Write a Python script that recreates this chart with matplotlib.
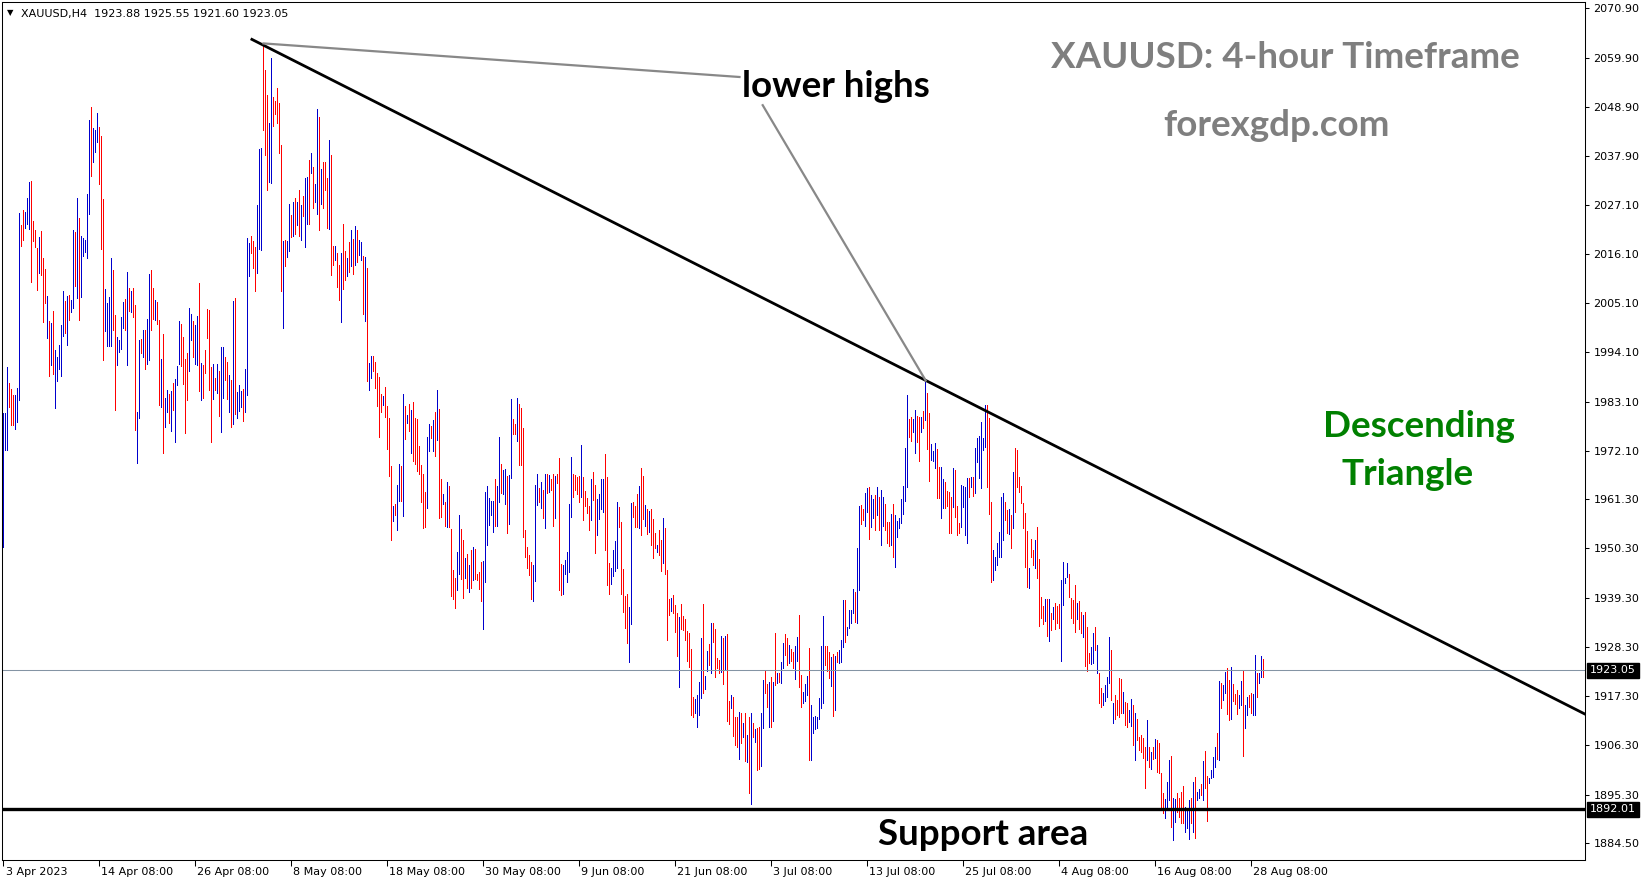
import matplotlib
matplotlib.use("Agg")
import matplotlib.pyplot as plt

W, H = 1649, 884

# XAUUSD 4h bars, 3 Apr - 28 Aug 2023 (one value per bar)
highs = [
    1980.5, 1980.5, 1990.8, 1987.2, 1985.9, 1984.6, 1984.6, 1986.1, 2025.2, 2022.5,
    2025.9, 2025.4, 2028.6, 2032.1, 2032.4, 2023.4, 2021.4, 2017.4, 2019.9, 2021.2,
    2015.2, 2012.7, 2006.7, 2001.1, 2000.6, 2003.3, 1994.6, 1993.0, 1995.7, 2000.2,
    2007.8, 2005.6, 2006.7, 2006.9, 2005.8, 2021.4, 2021.0, 2028.6, 2024.1, 2020.1,
    2019.6, 2019.2, 2029.5, 2046.0, 2048.9, 2044.2, 2043.8, 2047.6, 2044.4, 2042.4,
    2028.3, 2008.2, 2005.1, 2006.5, 2015.2, 2012.5, 2002.4, 1997.5, 1996.8, 2002.0,
    2005.3, 2006.0, 2012.0, 2008.5, 2007.8, 2008.5, 2004.7, 1980.8, 1996.8, 1997.1,
    1999.1, 1999.1, 2001.5, 2011.6, 2012.5, 2008.5, 2005.8, 2005.3, 2001.3, 1992.6,
    1998.2, 1983.9, 1985.7, 1984.8, 1985.5, 1987.2, 1988.1, 1991.0, 2001.1, 2000.4,
    1997.5, 1992.6, 1993.9, 2004.0, 2002.7, 2001.1, 2000.2, 2002.2, 2009.6, 1991.7,
    1991.3, 1994.6, 2003.8, 2003.5, 1990.8, 1991.5, 1988.4, 1991.5, 1989.9, 1995.3,
    1995.3, 1993.0, 1991.9, 1989.0, 1987.9, 2005.6, 2006.2, 1985.2, 1986.8, 1985.5,
    1985.9, 1990.4, 2019.6, 2018.5, 2020.1, 2019.0, 2017.6, 2027.0, 2039.5, 2039.7,
    2062.7, 2057.2, 2051.6, 2045.3, 2059.8, 2051.1, 2050.2, 2053.1, 2049.8, 2040.4,
    2019.0, 2019.2, 2019.0, 2027.2, 2024.8, 2027.7, 2028.6, 2027.7, 2030.4, 2027.0,
    2029.0, 2033.0, 2033.3, 2037.1, 2038.6, 2035.5, 2031.7, 2048.5, 2046.7, 2035.0,
    2036.6, 2036.6, 2033.0, 2041.5,
    2038.2, 2017.8, 2017.8, 2016.3, 2013.6, 2016.3, 2022.8, 2016.7, 2015.2, 2018.7,
    2021.4, 2019.4, 2022.3, 2021.4, 2019.2, 2018.7, 2015.6, 2015.4, 2012.9, 1991.7,
    1993.3, 1993.3, 1991.9, 1989.5, 1988.6, 1984.8, 1984.3, 1986.3, 1982.1, 1979.4,
    1968.7, 1959.8, 1960.2, 1964.5, 1969.1, 1968.7, 1984.8, 1982.1, 1980.1, 1982.5,
    1981.2, 1983.0, 1979.4, 1979.2, 1973.2, 1968.9, 1966.9, 1962.9, 1975.2, 1978.1,
    1977.6, 1979.0, 1980.8, 1985.7, 1981.4, 1965.8, 1962.4, 1960.7, 1965.1, 1964.2,
    1954.6, 1945.5, 1943.7, 1949.5, 1957.8, 1954.6, 1952.2, 1948.1, 1949.0, 1946.6,
    1949.9, 1950.6, 1950.2, 1944.6, 1945.0, 1947.3, 1947.5, 1962.9, 1964.2, 1961.5,
    1960.9, 1960.9, 1965.8, 1964.2, 1975.2, 1969.1, 1967.8, 1968.0, 1966.5, 1966.7,
    1983.7, 1979.2, 1978.1, 1983.9, 1982.5, 1981.6, 1977.2, 1954.4, 1950.6, 1948.8,
    1947.3, 1946.6, 1964.5, 1966.9, 1963.8, 1965.1, 1963.3, 1966.9, 1966.9, 1966.7,
    1965.8, 1966.9, 1966.5, 1966.9, 1970.5,
    1946.8, 1946.6, 1947.7, 1949.5, 1960.2, 1970.7, 1966.9, 1966.7, 1966.2, 1966.5,
    1973.4, 1966.2, 1963.1, 1961.5, 1959.8, 1965.8, 1967.4, 1964.5, 1961.3, 1962.4,
    1965.8, 1965.8, 1971.4, 1966.2, 1947.0, 1945.9, 1949.9, 1951.9, 1960.7, 1959.5,
    1956.2, 1945.7, 1939.7, 1940.1, 1937.2, 1960.4, 1960.7, 1959.8, 1962.4, 1964.2,
    1968.2, 1966.5, 1960.0, 1959.1, 1958.6, 1959.1, 1956.9, 1953.7, 1951.0, 1954.4,
    1952.2, 1957.1, 1954.8, 1945.5, 1939.0, 1939.2, 1939.9, 1937.6, 1935.9, 1935.0,
    1937.9, 1935.2, 1934.5, 1931.8, 1931.4, 1927.8, 1917.1, 1916.6, 1917.5, 1920.4,
    1930.3, 1937.9, 1921.8, 1927.4, 1928.9, 1933.6, 1933.6, 1932.3, 1925.8, 1925.4,
    1930.7, 1930.3, 1930.7, 1931.2, 1916.2, 1917.5, 1917.1, 1912.6, 1912.6, 1913.7,
    1913.5, 1911.3, 1913.5, 1908.6, 1912.6, 1913.5, 1911.3, 1910.0, 1910.2, 1910.4,
    1913.5, 1920.9, 1923.1, 1920.0, 1920.4, 1921.6, 1920.4, 1931.4, 1922.5, 1922.5,
    1924.9, 1929.2, 1931.2, 1930.3, 1928.7, 1927.8, 1927.1, 1928.5, 1930.5, 1935.4,
    1922.0, 1918.2, 1920.0, 1921.8, 1928.0, 1915.3, 1912.6, 1912.8, 1912.6, 1916.9,
    1928.5, 1935.2, 1928.5, 1928.5, 1927.1, 1926.0, 1926.7, 1926.3, 1927.1, 1927.6,
    1929.8, 1938.8, 1938.8, 1932.7, 1936.5, 1936.5, 1941.2, 1940.5, 1950.4, 1959.8,
    1960.0, 1959.1, 1962.7, 1963.8, 1964.0,
    1962.2, 1961.3, 1962.2, 1964.0, 1961.8, 1963.3, 1961.8, 1960.2, 1956.2, 1956.2,
    1958.0, 1960.2, 1957.8, 1956.4, 1957.1, 1961.3, 1964.2, 1972.7, 1984.6, 1979.2,
    1979.6, 1979.2, 1981.2, 1979.9, 1979.6, 1979.6, 1981.0, 1987.7, 1985.0, 1980.5,
    1973.6, 1972.0, 1973.8, 1972.5, 1968.5, 1968.5, 1965.8, 1965.1, 1963.1, 1962.9,
    1961.8, 1968.2, 1967.8, 1959.8, 1956.0, 1964.5, 1964.2, 1964.0, 1966.0, 1966.0,
    1966.2, 1966.2, 1972.7, 1974.9, 1975.4, 1978.5, 1974.9, 1982.3, 1982.3, 1979.4,
    1960.7, 1949.9, 1948.4, 1951.5, 1954.0, 1961.8, 1962.7, 1960.7, 1958.9, 1959.1,
    1957.7, 1967.4, 1972.7, 1972.3, 1966.2, 1964.2, 1960.4, 1958.2, 1954.2, 1945.9,
    1952.4, 1949.9, 1952.2, 1955.1, 1947.9, 1939.4, 1937.4, 1939.0, 1939.0, 1939.0,
    1935.9, 1937.2, 1938.1, 1937.4, 1937.9, 1943.2, 1947.3, 1943.7, 1947.0, 1944.6,
    1939.2, 1938.8, 1942.1, 1938.1, 1938.5, 1936.1, 1935.4, 1936.1, 1932.7, 1926.9,
    1928.3, 1931.4, 1932.7, 1928.7, 1922.5, 1919.1, 1918.0, 1919.8, 1921.6, 1930.5,
    1927.6, 1915.8, 1917.5, 1916.4, 1921.3, 1921.1, 1918.2, 1916.0, 1915.7, 1914.2,
    1916.6, 1915.3, 1913.5, 1912.2, 1908.2, 1908.6, 1907.9, 1905.9, 1911.9, 1905.9,
    1904.8, 1905.9, 1907.7, 1907.5, 1906.8, 1900.1, 1895.6, 1894.3, 1898.1, 1903.0,
    1903.9, 1894.5, 1894.3, 1895.6, 1894.5, 1895.9, 1897.2, 1892.5, 1891.6, 1894.1,
    1894.5, 1898.1, 1899.2, 1895.9, 1896.5, 1897.7, 1902.8, 1905.0, 1899.4, 1899.0,
    1900.8, 1903.7, 1905.9, 1909.0, 1920.7, 1920.2, 1919.8, 1922.7, 1923.6, 1920.9,
    1923.8, 1920.0, 1917.8, 1918.6, 1917.5, 1920.7, 1922.9, 1915.3, 1917.1, 1917.5,
    1918.0, 1917.8, 1926.5, 1922.5, 1922.5, 1926.3, 1925.55,
]

lows = [
    1950.6, 1972.3, 1972.3, 1981.9, 1977.9, 1977.9, 1977.0, 1978.5, 1983.4, 2017.8,
    2019.2, 2021.9, 2022.8, 2021.6, 2009.8, 2019.0, 2017.6, 2008.0, 2011.8, 2011.4,
    2000.9, 2005.1, 1997.3, 1988.8, 1991.3, 1989.2, 1981.6, 1987.7, 1990.4, 1988.8,
    1997.7, 1998.4, 1995.7, 2001.3, 2003.1, 2004.0, 2008.9, 2006.2, 2001.3, 2006.5,
    2015.6, 2016.5, 2015.2, 2025.0, 2033.5, 2036.6, 2038.8, 2041.1, 2031.7, 2017.2,
    1992.4, 1998.9, 1995.5, 1995.5, 1995.5, 1999.1, 1981.2, 1991.3, 1994.2, 1994.8,
    1999.5, 1999.1, 1991.3, 2003.3, 2003.1, 2002.0, 1976.7, 1969.4, 1979.4, 1993.9,
    1993.0, 1990.4, 1991.5, 1992.4, 1999.1, 2001.5, 2001.3, 2000.4, 1982.3, 1981.9,
    1971.6, 1977.4, 1980.8, 1978.3, 1976.5, 1981.2, 1974.1, 1986.8, 1991.5, 1991.0,
    1987.0, 1976.1, 1983.4, 1989.9, 1996.8, 1993.0, 1991.5, 1991.3, 1985.5, 1983.4,
    1983.9, 1989.5, 1997.3, 1985.7, 1974.1, 1983.7, 1985.7, 1985.0, 1979.9, 1976.3,
    1983.9, 1987.9, 1983.7, 1980.8, 1977.4, 1978.1, 1980.3, 1979.4, 1981.0, 1981.9,
    1978.7, 1980.8, 1984.6, 2011.1, 2016.3, 2012.9, 2007.8, 2011.8, 2017.2, 2016.9,
    2043.8, 2038.2, 2030.4, 2032.1, 2031.9, 2044.7, 2047.3, 2045.3, 2038.6, 2007.8,
    1999.5, 2013.4, 2015.4, 2016.7, 2019.9, 2020.1, 2020.5, 2022.5, 2020.1, 2019.2,
    2024.5, 2017.6, 2022.8, 2022.8, 2034.1, 2026.3, 2027.7, 2025.0, 2021.4, 2027.2,
    2026.3, 2030.4, 2021.9, 2021.6,
    2011.4, 2013.6, 2014.7, 2008.7, 2005.8, 2000.9, 2008.2, 2010.2, 2011.1, 2012.0,
    2013.4, 2011.6, 2013.6, 2014.3, 2015.8, 2014.7, 2002.7, 2001.1, 1987.7, 1985.7,
    1988.4, 1989.9, 1986.1, 1982.1, 1975.2, 1980.8, 1982.3, 1979.6, 1972.5, 1966.5,
    1952.2, 1956.4, 1957.8, 1954.4, 1960.9, 1960.9, 1957.5, 1974.7, 1978.3, 1976.5,
    1971.6, 1969.8, 1969.1, 1967.6, 1966.9, 1960.7, 1954.8, 1955.1, 1959.3, 1972.0,
    1974.9, 1972.0, 1970.9, 1974.5, 1957.1, 1957.3, 1960.2, 1955.3, 1955.1, 1955.1,
    1939.7, 1939.0, 1937.0, 1941.0, 1944.6, 1943.5, 1939.2, 1943.7, 1941.4, 1940.5,
    1941.4, 1943.2, 1943.5, 1943.2, 1941.2, 1938.5, 1932.3, 1942.8, 1951.0, 1955.5,
    1957.7, 1953.9, 1955.3, 1955.3, 1960.7, 1962.7, 1962.4, 1960.2, 1953.7, 1955.7,
    1966.0, 1975.8, 1975.8, 1974.3, 1968.9, 1968.9, 1952.8, 1948.4, 1945.9, 1944.3,
    1939.0, 1938.5, 1943.0, 1960.0, 1960.7, 1959.3, 1957.1, 1954.8, 1962.7, 1962.9,
    1963.3, 1955.3, 1957.1, 1964.9, 1941.0,
    1939.9, 1940.1, 1944.6, 1942.8, 1945.0, 1957.3, 1961.8, 1963.3, 1962.4, 1960.7,
    1961.8, 1956.6, 1959.8, 1958.2, 1954.4, 1956.6, 1961.1, 1949.3, 1953.3, 1956.9,
    1959.1, 1958.4, 1949.9, 1942.1, 1940.1, 1942.3, 1944.1, 1945.2, 1945.9, 1955.1,
    1940.1, 1936.1, 1932.5, 1929.2, 1924.9, 1933.4, 1957.3, 1955.1, 1955.1, 1954.8,
    1953.3, 1956.9, 1955.3, 1953.5, 1953.9, 1951.0, 1948.1, 1950.4, 1949.5, 1948.8,
    1945.2, 1947.0, 1944.6, 1929.8, 1935.4, 1936.3, 1935.9, 1931.6, 1926.3, 1919.3,
    1932.3, 1932.1, 1929.8, 1925.1, 1923.8, 1913.1, 1912.6, 1913.5, 1910.4, 1913.1,
    1916.9, 1918.0, 1918.9, 1922.9, 1924.2, 1922.4, 1929.4, 1921.6, 1923.6, 1922.4,
    1922.7, 1920.0, 1923.1, 1911.7, 1911.1, 1914.6, 1908.4, 1906.4, 1905.9, 1903.2,
    1906.8, 1908.2, 1902.8, 1902.6, 1895.6, 1893.2, 1908.2, 1907.0, 1900.8, 1901.0,
    1901.7, 1910.2, 1918.0, 1914.9, 1910.4, 1910.4, 1911.7, 1919.8, 1920.2, 1920.4,
    1920.2, 1923.6, 1926.5, 1924.2, 1924.7, 1925.1, 1923.6, 1921.1, 1925.1, 1919.3,
    1914.9, 1915.7, 1916.2, 1917.5, 1903.0, 1903.0, 1909.0, 1909.9, 1910.2, 1912.2,
    1914.6, 1915.7, 1924.2, 1922.9, 1921.3, 1919.5, 1912.8, 1914.2, 1924.9, 1924.7,
    1924.9, 1928.3, 1929.4, 1931.0, 1932.5, 1933.6, 1935.9, 1933.8, 1933.6, 1941.0,
    1955.7, 1956.6, 1955.3, 1958.4, 1952.4,
    1955.1, 1957.1, 1954.4, 1957.7, 1954.4, 1951.0, 1955.3, 1954.4, 1951.5, 1950.8,
    1951.0, 1948.4, 1946.1, 1952.8, 1954.8, 1956.0, 1958.0, 1960.9, 1964.0, 1975.2,
    1974.3, 1976.3, 1971.6, 1974.1, 1969.8, 1976.3, 1977.2, 1979.0, 1972.5, 1965.3,
    1970.0, 1969.8, 1968.2, 1961.5, 1961.5, 1957.1, 1959.3, 1959.3, 1959.8, 1953.7,
    1953.7, 1959.5, 1957.3, 1953.3, 1953.7, 1955.1, 1959.5, 1953.3, 1951.5, 1961.8,
    1964.0, 1962.0, 1962.7, 1969.6, 1966.0, 1963.8, 1972.3, 1972.9, 1964.0, 1958.0,
    1942.8, 1943.2, 1945.5, 1946.6, 1948.4, 1948.4, 1952.2, 1956.6, 1953.7, 1953.5,
    1950.4, 1954.8, 1958.4, 1964.0, 1962.9, 1960.4, 1954.8, 1946.1, 1941.7, 1941.4,
    1948.4, 1946.6, 1945.9, 1943.7, 1932.9, 1934.7, 1933.4, 1934.1, 1930.7, 1929.6,
    1932.1, 1934.5, 1932.3, 1933.6, 1932.5, 1925.1, 1937.6, 1942.6, 1943.9, 1939.4,
    1934.7, 1933.6, 1931.6, 1934.5, 1932.3, 1931.4, 1930.5, 1924.0, 1922.9, 1924.7,
    1924.4, 1924.7, 1927.6, 1922.5, 1915.7, 1914.9, 1915.3, 1916.2, 1917.1, 1920.2,
    1916.4, 1911.3, 1912.2, 1913.1, 1912.6, 1913.5, 1913.5, 1910.8, 1910.4, 1911.5,
    1910.6, 1906.4, 1903.0, 1907.5, 1905.2, 1904.8, 1903.5, 1896.8, 1903.0, 1901.5,
    1901.0, 1903.2, 1903.5, 1900.3, 1900.1, 1892.5, 1891.2, 1890.1, 1892.5, 1894.1,
    1888.0, 1885.1, 1889.2, 1891.4, 1890.3, 1888.9, 1888.9, 1886.9, 1887.8, 1885.4,
    1888.9, 1886.9, 1885.6, 1894.1, 1894.5, 1895.2, 1894.1, 1896.8, 1889.4, 1897.9,
    1899.0, 1899.2, 1901.5, 1903.2, 1903.0, 1914.6, 1916.4, 1918.0, 1913.3, 1912.0,
    1912.2, 1916.2, 1915.5, 1913.3, 1914.6, 1915.3, 1903.9, 1910.2, 1913.1, 1914.9,
    1913.5, 1913.1, 1913.1, 1917.1, 1920.2, 1921.6, 1921.60,
]

# B = bull bar (blue), R = bear bar (red)
bar_dir = (
    "BBBRRRBB" "BRRBBBRR" "RRBRRRBR" "BRBBBBBR" "BRBBRBRB" "BBBBRBBB" "RRRBBBBR" "RBBBBRBR"
    "BRRBBRBR" "BBRRBRRB" "RBBRBRBB" "BRRRRBBR" "BBRBRRRR" "RBRBRBBR" "RBRBRBBB" "RBBBRRRB"
    "BBRRRBBR" "RRRRBRBB" "RBRBRBRB" "BRBRBBRB" "RRRBRRBR" "RBRRBRBR" "BRBBRBRB" "BRRRRRBR"
    "RRRBRBBR" "BRBRBRRR" "RRRRBBRB" "RBRRBRBR" "RRRBBRRB" "RBRBRRRR" "BBBBBBRB" "BRBBRBBR"
    "RBRRRRRR" "RBBBRBRB" "RBRRBRRR" "BBBBBRRR" "RBRRRRBR" "RBBBBRRR" "BBBBRRRR" "RBBRRRBR"
    "RBRBRRRB" "RRBRRRBR" "RRBRRRRR" "RRBBBBRB" "BRBRRRRB" "RBRRBRRR" "BRBRBRBR" "BRRBBRRB"
    "RBRBRBBR" "RBRRBBRR" "BBBRBBBB" "BBBRRRBR" "BRBBBRBB" "BBRBBRRB" "BRBBRBRB" "BRRRBRBB"
    "BBBBBRRB" "BRRBRBRR" "BBBRRBBR" "RRRBRRRB" "BBBRBRBB" "BBBBRRRB" "BBBBBRRB" "RBRRRRRR"
    "RBRRBRRR" "RBRBRBRR" "RBBBBRRR" "RBRRBRRR" "BBRBRRBB" "BBRBRRRR" "BRRBBRBR" "RRRRBRBR"
    "BRRRRBBB" "RBBRRRRB" "BBRBRBBR" "BRRBBBBR" "BRBBRRBR" "RRBBRBBR" "RBBRBBR"
)

price_ticks = [2070.90, 2059.90, 2048.90, 2037.90, 2027.10, 2016.10, 2005.10, 1994.10, 1983.10,
               1972.10, 1961.30, 1950.30, 1939.30, 1928.30, 1917.30, 1906.30, 1895.30, 1884.50]
date_ticks = [0, 48, 96, 144, 192, 240, 288, 336, 384, 432, 480, 528, 576, 624]
date_labels = ["3 Apr 2023", "14 Apr 08:00", "26 Apr 08:00", "8 May 08:00", "18 May 08:00",
               "30 May 08:00", "9 Jun 08:00", "21 Jun 08:00", "3 Jul 08:00", "13 Jul 08:00",
               "25 Jul 08:00", "4 Aug 08:00", "16 Aug 08:00", "28 Aug 08:00"]

last_price = 1923.05
support = 1892.01
trend_x, trend_y = [124.2, 790.75], [2064.0, 1913.3]
hl1_x, hl1_y = [130, 368], [2063.1, 2055.6]
hl2_x, hl2_y = [379.6, 461.1], [2049.3, 1987.8]

assert len(highs) == len(lows) == len(bar_dir), (len(highs), len(lows), len(bar_dir))

fig = plt.figure(figsize=(W / 100, H / 100), dpi=100)
ax = fig.add_axes([2 / W, 24 / H, 1583 / W, 858 / H])
ax.set_xlim(-0.75, 790.75)
ax.set_ylim(1880.71, 2072.35)

colors = ["#0000cd" if d == "B" else "#ff0000" for d in bar_dir]
ax.vlines(range(len(highs)), lows, highs, colors=colors, linewidth=0.7, antialiased=False)

ax.axhline(last_price, color="#8494a4", lw=0.75)
ax.axhline(support, color="black", lw=2.4)
ax.plot(trend_x, trend_y, color="black", lw=2.0)
ax.plot(hl1_x, hl1_y, color="#888888", lw=1.6)
ax.plot(hl2_x, hl2_y, color="#888888", lw=1.6)

for s in ax.spines.values():
    s.set_linewidth(0.75)
    s.set_color("black")

ax.yaxis.tick_right()
ax.set_yticks(price_ticks, [f"{p:.2f}" for p in price_ticks])
ax.tick_params(axis="y", direction="out", length=3, width=0.75, pad=3, labelsize=8)
ax.set_xticks(date_ticks, [""] * len(date_ticks))
ax.tick_params(axis="x", direction="out", length=4, width=0.75)
for t, lab in zip(date_ticks, date_labels):
    ax.annotate(lab, xy=(t, 0), xycoords=("data", "axes fraction"), xytext=(2, -12),
                textcoords="offset pixels", ha="left", va="center", fontsize=8)

for p in (last_price, support):
    ax.annotate(f"{p:.2f}", xy=(1, p), xycoords=("axes fraction", "data"), xytext=(5, 0),
                textcoords="offset pixels", ha="left", va="center", fontsize=8, color="white",
                bbox=dict(boxstyle="square,pad=0.25", fc="black", ec="black"))

fig.text(7 / W, 1 - 13 / H, "\u25bc", fontsize=6, va="center")
fig.text(21 / W, 1 - 17 / H, "XAUUSD,H4  1923.88 1925.55 1921.60 1923.05", fontsize=8, va="baseline")


def big(x, y, s, color):
    fig.text(x / W, 1 - y / H, s, color=color, fontsize=26.5, fontweight="bold",
             family="Lato", ha="center", va="baseline")


big(1285, 68, "XAUUSD: 4-hour Timeframe", "#7f7f7f")
big(1276, 136, "forexgdp.com", "#7f7f7f")
big(836, 97, "lower highs", "black")
big(1419, 437, "Descending", "#008000")
big(1408, 485, "Triangle", "#008000")
big(983, 845, "Support area", "black")

fig.savefig("out.png", dpi=100)
